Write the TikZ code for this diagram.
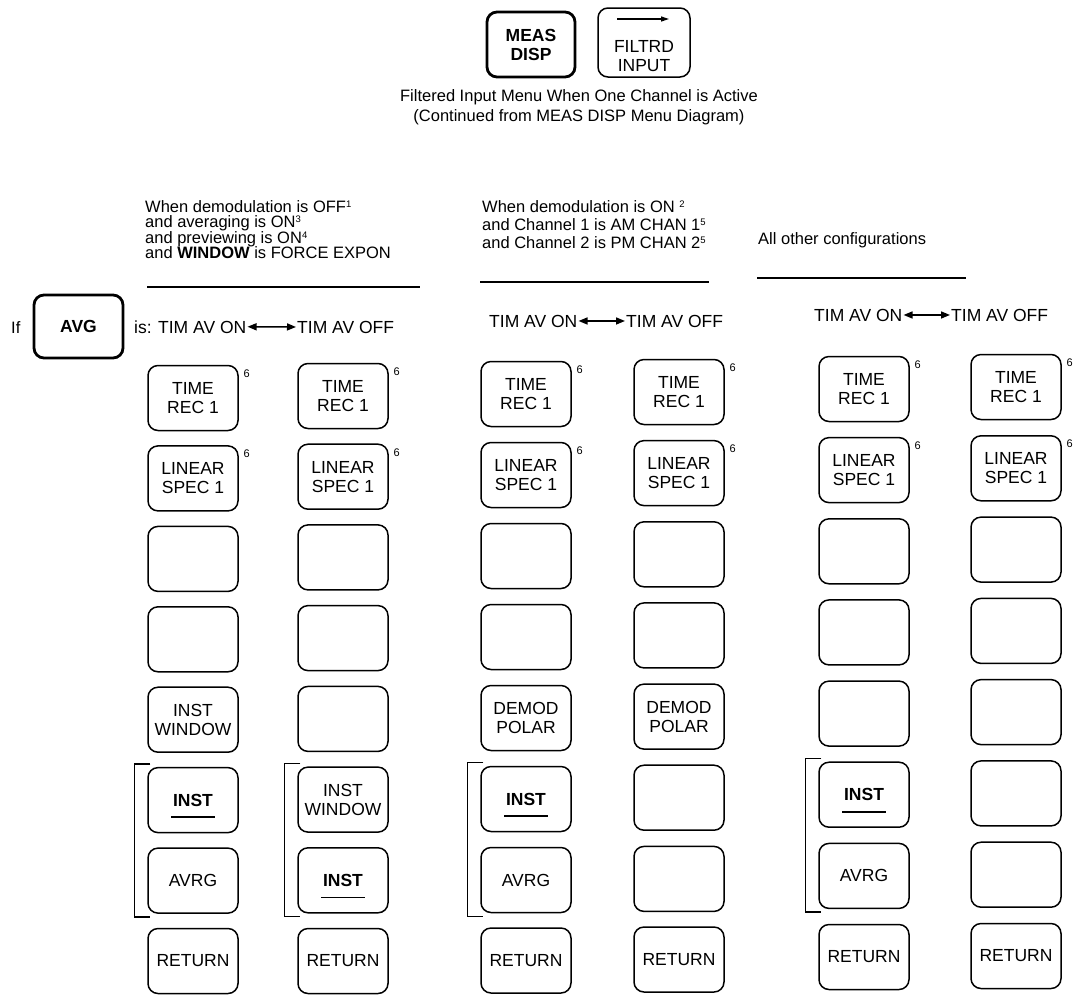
\documentclass[tikz,border=0pt]{standalone}
\usepackage{fontspec}
\setmainfont{Liberation Sans}
\usetikzlibrary{arrows.meta,calc}
\newcommand\keyfont{\fontsize{17.5}{19}\selectfont}
\newcommand\hdrfont{\fontsize{16.5}{18}\selectfont}
\newcommand\capfont{\fontsize{16.5}{20}\selectfont}
\newcommand\timfont{\fontsize{17.5}{20}\selectfont}
\newcommand\supfont{\fontsize{11}{12}\selectfont}
\newcommand\sups[1]{\raisebox{5pt}{\fontsize{9.5}{10}\selectfont #1}}
\begin{document}
\begin{tikzpicture}[x=1pt,y=-1pt,
  key/.style={draw, line width=1.5pt, rounded corners=10pt, minimum width=90pt,
    minimum height=65pt, inner sep=0pt, align=center, font=\keyfont},
  boldkey/.style={key, line width=2.8pt, font=\keyfont\bfseries},
  hdr/.style={anchor=base west, inner sep=0pt, font=\hdrfont},
  tim/.style={anchor=base west, inner xsep=1pt, inner ysep=0pt, font=\timfont},
  sup/.style={inner sep=0pt, font=\supfont},
  rulel/.style={line width=2.6pt},
  brk/.style={line width=1.4pt},
  ul/.style={line width=1.6pt},
  dbl/.style={line width=1.5pt, {Triangle[length=9pt,width=7pt]}-{Triangle[length=9pt,width=7pt]}},
  sarr/.style={line width=1.3pt, -{Triangle[length=8pt,width=5pt]}}]
\useasboundingbox (0,0) rectangle (1073,994);
\fill[white] (0,0) rectangle (1073,994);

% top keys
\node[boldkey, minimum width=88pt, minimum height=65pt] (meas) at (531,44.5) {MEAS\\DISP};
\node[key, minimum width=92pt, minimum height=69pt] (filt) at (644,42.5) {};
\node[inner sep=0pt, align=center, font=\keyfont] (filttxt) at (644,56) {FILTRD\\INPUT};
\coordinate (fa1) at (617,19);
\coordinate (fa2) at (669,19);
\draw[sarr] (fa1) -- (fa2);

% caption
\node[inner sep=0pt, align=center, font=\capfont] (cap) at (579,107)
  {Filtered Input Menu When One Channel is Active\\(Continued from MEAS DISP Menu Diagram)};

% headers
\node[hdr] (hl1) at (145,212) {When demodulation is OFF\sups{1}};
\node[hdr] (hl2) at (145,227.5) {and averaging is ON\sups{3}};
\node[hdr] (hl3) at (145,243) {and previewing is ON\sups{4}};
\node[hdr] (hl4) at (145,258.5) {and \textbf{WINDOW} is FORCE EXPON};
\node[hdr] (hm1) at (482,212) {When demodulation is ON \sups{2}};
\node[hdr] (hm2) at (482,230) {and Channel 1 is AM CHAN 1\sups{5}};
\node[hdr] (hm3) at (482,248) {and Channel 2 is PM CHAN 2\sups{5}};
\node[hdr] (hr1) at (758,244) {All other configurations};

\coordinate (rl1) at (147,287); \coordinate (rl2) at (420,287);
\coordinate (rm1) at (480,282); \coordinate (rm2) at (709,282);
\coordinate (rr1) at (757,278); \coordinate (rr2) at (966,278);
\draw[rulel] (rl1) -- (rl2);
\draw[rulel] (rm1) -- (rm2);
\draw[rulel] (rr1) -- (rr2);

% TIM AV rows
\node[tim, font=\hdrfont] (if) at (10,333) {If};
\node[boldkey, minimum width=89pt, minimum height=63pt] (avg) at (78.5,326.5) {AVG};
\node[tim] (on1) at (133,333) {is: TIM AV ON};
\node[tim] (off1) at (296,333) {TIM AV OFF};
\draw[dbl] (on1.east) -- (off1.west);
\node[tim] (on3) at (488,327) {TIM AV ON};
\node[tim] (off3) at (625,327) {TIM AV OFF};
\draw[dbl] (on3.east) -- (off3.west);
\node[tim] (on5) at (813,321) {TIM AV ON};
\node[tim] (off5) at (950,321) {TIM AV OFF};
\draw[dbl] (on5.east) -- (off5.west);

% column 1
\node[key] (k11) at (193,398) {TIME\\REC 1};
\node[key] (k12) at (193,478.4) {LINEAR\\SPEC 1};
\node[key] (k13) at (193,558.9) {};
\node[key] (k14) at (193,639.3) {};
\node[key] (k15) at (193,719.7) {INST\\WINDOW};
\node[key] (k16) at (193,800.1) {\textbf{INST}};
\node[key] (k17) at (193,880.6) {AVRG};
\node[key] (k18) at (193,961) {RETURN};
% column 2
\node[key] (k21) at (343,396) {TIME\\REC 1};
\node[key] (k22) at (343,476.7) {LINEAR\\SPEC 1};
\node[key] (k23) at (343,557.4) {};
\node[key] (k24) at (343,638.1) {};
\node[key] (k25) at (343,718.9) {};
\node[key] (k26) at (343,799.6) {INST\\WINDOW};
\node[key] (k27) at (343,880.3) {\textbf{INST}};
\node[key] (k28) at (343,961) {RETURN};
% column 3
\node[key] (k31) at (526,394) {TIME\\REC 1};
\node[key] (k32) at (526,475) {LINEAR\\SPEC 1};
\node[key] (k33) at (526,556) {};
\node[key] (k34) at (526,637) {};
\node[key] (k35) at (526,718) {DEMOD\\POLAR};
\node[key] (k36) at (526,799) {\textbf{INST}};
\node[key] (k37) at (526,880) {AVRG};
\node[key] (k38) at (526,960.5) {RETURN};
% column 4
\node[key] (k41) at (679,392) {TIME\\REC 1};
\node[key] (k42) at (679,473.1) {LINEAR\\SPEC 1};
\node[key] (k43) at (679,554.3) {};
\node[key] (k44) at (679,635.4) {};
\node[key] (k45) at (679,716.6) {DEMOD\\POLAR};
\node[key] (k46) at (679,797.7) {};
\node[key] (k47) at (679,878.9) {};
\node[key] (k48) at (679,959.5) {RETURN};
% column 5
\node[key] (k51) at (864,389) {TIME\\REC 1};
\node[key] (k52) at (864,470.1) {LINEAR\\SPEC 1};
\node[key] (k53) at (864,551.3) {};
\node[key] (k54) at (864,632.4) {};
\node[key] (k55) at (864,713.6) {};
\node[key] (k56) at (864,794.7) {\textbf{INST}};
\node[key] (k57) at (864,875.9) {AVRG};
\node[key] (k58) at (864,957) {RETURN};
% column 6
\node[key] (k61) at (1016,387) {TIME\\REC 1};
\node[key] (k62) at (1016,468.3) {LINEAR\\SPEC 1};
\node[key] (k63) at (1016,549.6) {};
\node[key] (k64) at (1016,630.9) {};
\node[key] (k65) at (1016,712.1) {};
\node[key] (k66) at (1016,793.4) {};
\node[key] (k67) at (1016,874.7) {};
\node[key] (k68) at (1016,956) {RETURN};

% footnote 6 marks
\foreach \c in {1,...,6}{
  \foreach \r in {1,2}{
    \node[sup] (s\c\r) at ([shift={(8pt,-9pt)}]k\c\r.north east) {6};
  }
}

% underlines under INST
\foreach \k in {k16,k27,k36,k56}{
  \draw[ul] ([shift={(-22pt,-17pt)}]\k.center) -- ([shift={(22pt,-17pt)}]\k.center);
}

% brackets
\foreach \c in {1,2,3,5}{
  \draw[brk] ([shift={(3pt,3pt)}]k\c6.north west) -- ([shift={(-13pt,3pt)}]k\c6.north west)
    -- ([shift={(-13pt,-3pt)}]k\c7.south west) -- ([shift={(3pt,-3pt)}]k\c7.south west);
}
\end{tikzpicture}
\end{document}
